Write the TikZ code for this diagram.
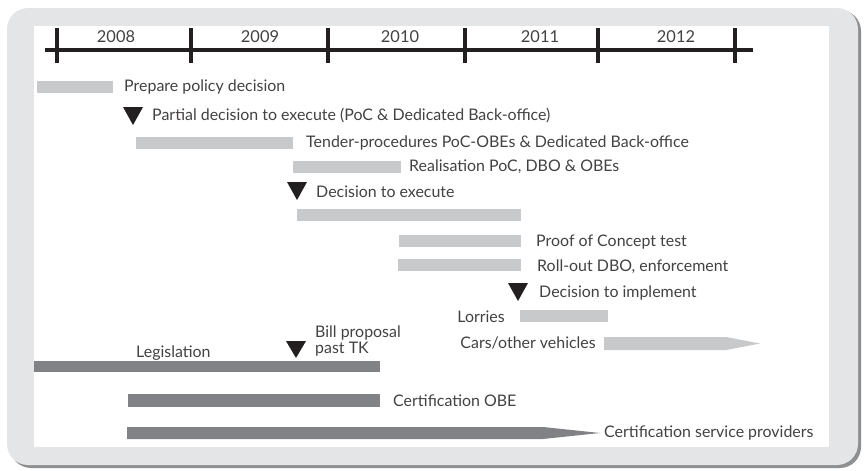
\documentclass[tikz,border=0pt]{standalone}
\usepackage{fontspec}
\setmainfont{Lato}
\definecolor{framegray}{HTML}{E4E5E6}
\definecolor{shadowgray}{HTML}{8E8F91}
\definecolor{lightbar}{HTML}{C8C9CB}
\definecolor{darkbar}{HTML}{808285}
\definecolor{ink}{HTML}{231F20}
\begin{document}
\begin{tikzpicture}[x=0.03cm,y=-0.03cm,
    lbl/.style={font=\fontsize{13.6}{14}\selectfont, text=ink!85, inner sep=0pt},
    year/.style={font=\fontsize{14}{15}\selectfont, text=ink!85, inner sep=0pt},
    litebar/.style={fill=lightbar},
    heavybar/.style={fill=darkbar},
    milestone/.style={fill=ink}]
\useasboundingbox (0,0) rectangle (866,470);
% frame
\fill[shadowgray, rounded corners=18] (10,10) rectangle (861,468);
\fill[framegray, rounded corners=18] (7,8) rectangle (858,465);
\fill[white] (34,26) rectangle (829,447);
% time axis
\draw[line width=3pt, ink] (45,50) -- (753,50);
\foreach \x in {57,191,328,465,598,735}
    \draw[line width=3pt, ink] (\x,28) -- (\x,63);
\node[year] (y08) at (116,37) {2008};
\node[year] (y09) at (260,37) {2009};
\node[year] (y10) at (400,37) {2010};
\node[year] (y11) at (540,37) {2011};
\node[year] (y12) at (676,37) {2012};
% light bars and milestones
\fill[litebar] (37,81) rectangle (113,93);
\node[lbl, anchor=west] (prep) at (124,87) {Prepare policy decision};
\fill[milestone] (123,107) -- (143,107) -- (133,125) -- cycle;
\node[lbl, anchor=west] (partial) at (152,115) {Partial decision to execute (PoC \& Dedicated Back-office)};
\fill[litebar] (136,137) rectangle (293,149);
\node[lbl, anchor=west] (tender) at (306,143) {Tender-procedures PoC-OBEs \& Dedicated Back-office};
\fill[litebar] (293,161) rectangle (401,173);
\node[lbl, anchor=west] (real) at (409,167) {Realisation PoC, DBO \& OBEs};
\fill[milestone] (287,182) -- (307,182) -- (297,200) -- cycle;
\node[lbl, anchor=west] (exec) at (316,192) {Decision to execute};
\fill[litebar] (297,209) rectangle (521,221);
\fill[litebar] (399,235) rectangle (521,247);
\node[lbl, anchor=west] (poc) at (536,242) {Proof of Concept test};
\fill[litebar] (398,259) rectangle (521,271);
\node[lbl, anchor=west] (roll) at (537,267) {Roll-out DBO, enforcement};
\fill[milestone] (508,283) -- (528,283) -- (518,301) -- cycle;
\node[lbl, anchor=west] (impl) at (539,293) {Decision to implement};
\fill[litebar] (520,310) rectangle (608,322);
\node[lbl, anchor=east] (lorries) at (505,317) {Lorries};
\fill[litebar] (604,337) -- (726,337) -- (760,343.5) -- (726,350) -- (604,350) -- cycle;
\node[lbl, anchor=east] (cars) at (596,343) {Cars/other vehicles};
% dark bars
\fill[heavybar] (34,361) rectangle (380,372);
\node[lbl, anchor=west] (legis) at (136,353) {Legislation};
\fill[milestone] (286,341) -- (306,341) -- (296,358) -- cycle;
\node[lbl, anchor=west, align=left, font=\fontsize{13.6}{10.5}\selectfont] (bill) at (315,341) {Bill proposal\\past TK};
\fill[heavybar] (128,394) rectangle (380,407);
\node[lbl, anchor=west] (certobe) at (393,401) {Certification OBE};
\fill[heavybar] (127,427) -- (543,427) -- (600,433) -- (543,439) -- (127,439) -- cycle;
\node[lbl, anchor=west] (certsp) at (604,433) {Certification service providers};
\end{tikzpicture}
\end{document}
